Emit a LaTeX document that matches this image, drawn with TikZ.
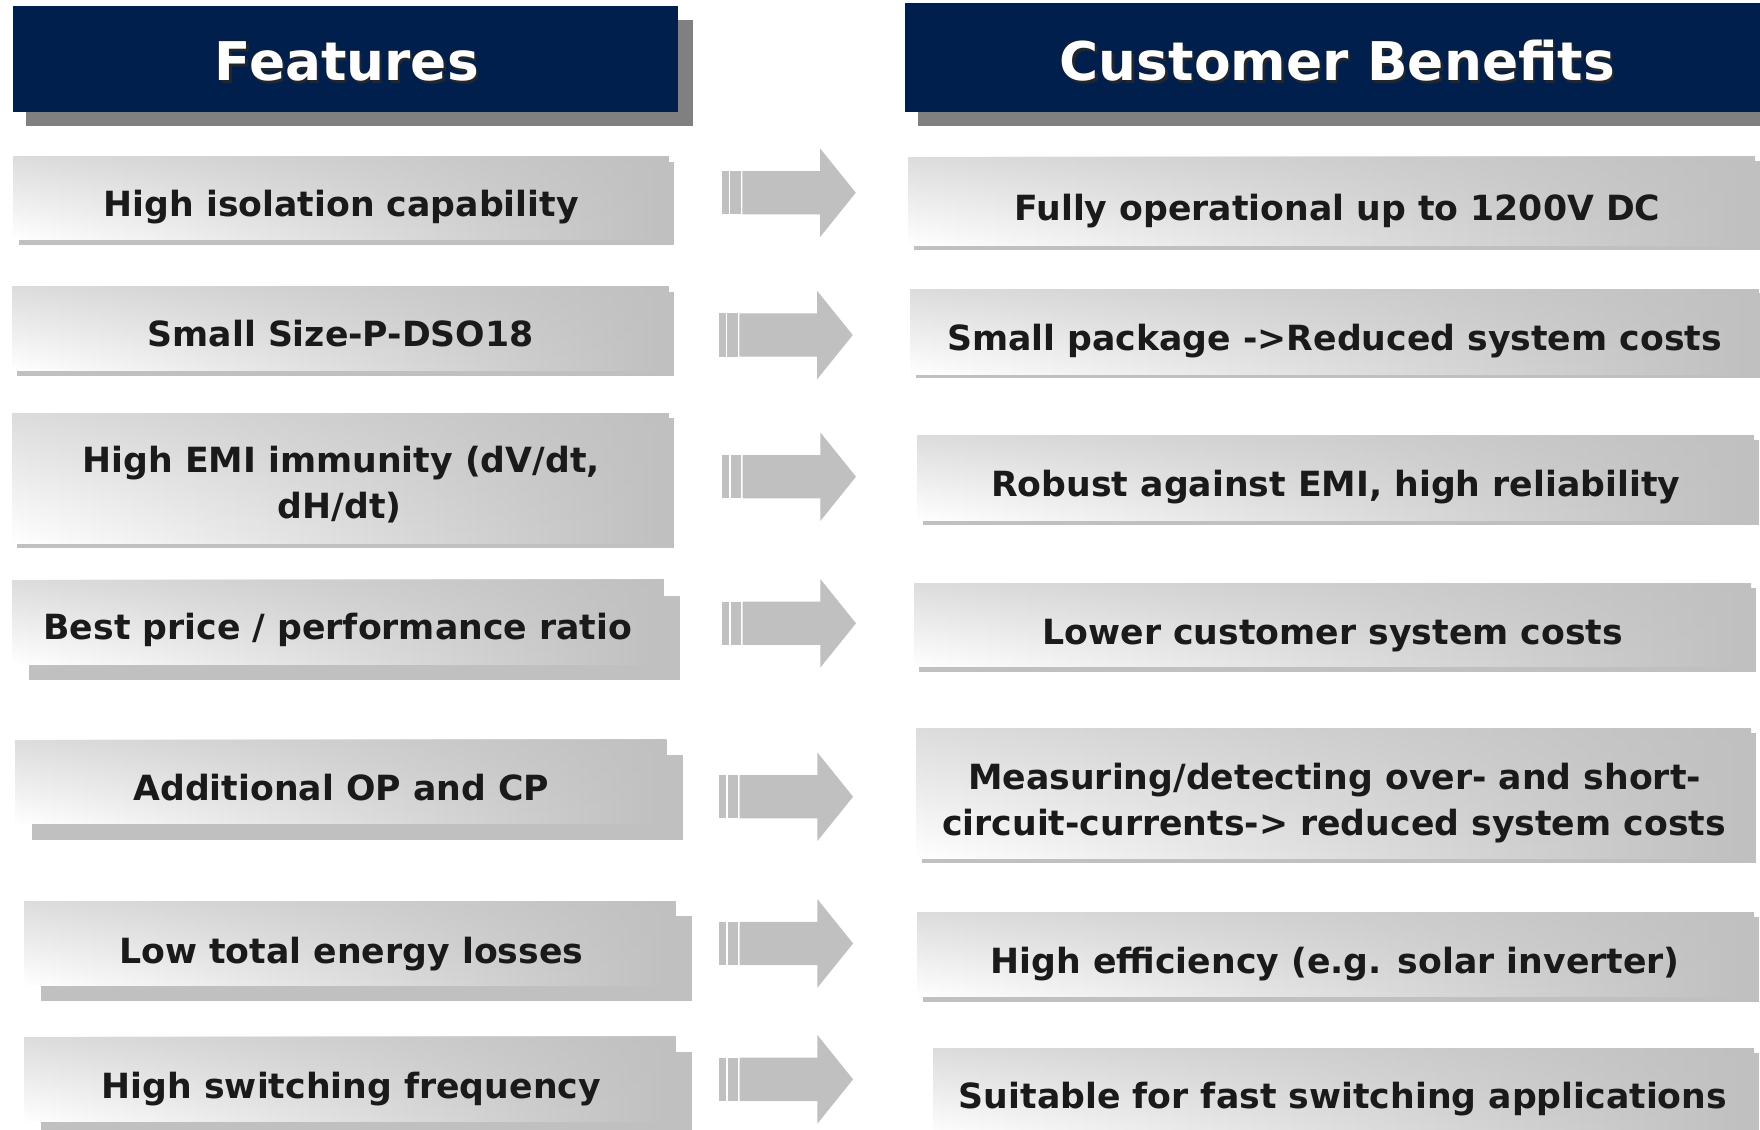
\documentclass[tikz,border=0pt]{standalone}
\usepackage{fontspec}
\setmainfont{DejaVu Sans}
\usetikzlibrary{fadings}
\definecolor{navy}{HTML}{001F4D}
\definecolor{hdshadow}{HTML}{808080}
\definecolor{boxshadow}{HTML}{C0C0C0}
\definecolor{boxgray}{HTML}{C0C0C0}
\definecolor{arrowgray}{HTML}{C0C0C0}
\definecolor{txt}{HTML}{1A1A1A}
\tikzset{
  hdbox/.style={fill=navy},
  hdshad/.style={fill=hdshadow},
  bxshad/.style={fill=boxshadow},
  bxfill/.style={left color=white, right color=boxgray},
  bxtop/.style={fill=boxgray, path fading=south, fill opacity=0.55},
  bodytext/.style={font=\fontsize{30.9}{41}\selectfont\bfseries, text=txt, anchor=base, inner sep=0pt},
  headtext/.style={font=\fontsize{47.5}{50}\selectfont\bfseries, text=white, anchor=base, inner sep=0pt},
  headshadowtext/.style={font=\fontsize{47.5}{50}\selectfont\bfseries, text=black!85, anchor=base, inner sep=0pt},
  arrowpart/.style={fill=arrowgray},
  blockarrow/.pic={
    \fill[arrowpart] (0,-19.3) rectangle (6.2,19.3);
    \fill[arrowpart] (7.4,-19.3) rectangle (16.7,19.3);
    \fill[arrowpart] (18.1,-19.3) -- (87.3,-19.3) -- (87.3,-39.5) -- (119.1,0)
      -- (87.3,39.5) -- (87.3,19.3) -- (18.1,19.3) -- cycle;
  }
}
\newcommand\mybox[6]{%
  \fill[bxshad] (#1+#5,#2+#6) rectangle (#3+#5,#4+#6);
  \shade[bxfill] (#1,#2) rectangle (#3,#4);
  \fill[bxtop] (#1,#2) rectangle (#3,#4);
}
\begin{document}
\begin{tikzpicture}[x=1pt,y=-1pt]
\clip (0,0) rectangle (1568,1006);
\fill[white] (0,0) rectangle (1568,1006);
% headers
\fill[hdshad] (23,17.5) rectangle (617,112);
\fill[hdbox] (12,5) rectangle (604,99.5);
\fill[hdshad] (818,17) rectangle (1575,112);
\fill[hdbox] (806,3) rectangle (1575,99.5);
\node[headshadowtext] (hf) at (311,74) {Features};
\node[headtext] (hfw) at (309,72) {Features};
\node[headshadowtext] (hc) at (1193.5,74) {Customer Benefits};
\node[headtext] (hcw) at (1191.5,72) {Customer Benefits};
% left boxes
\mybox{12}{139}{596}{213}{4.5}{5.5}
\mybox{11}{254.8}{596}{330}{4.5}{5}
\mybox{11}{368.3}{596}{484}{4.5}{4.3}
\mybox{11}{516.7}{591.4}{591.6}{14.4}{14.2}
\mybox{13.9}{659}{594}{734}{14.5}{14}
\mybox{21.9}{802.7}{602}{878}{14.6}{13.7}
\mybox{21.9}{923.6}{602}{999.4}{14.5}{14}
% right boxes
\mybox{809.3}{139.6}{1563.6}{218.3}{5}{4}
\mybox{811.4}{257.8}{1566.9}{333.2}{5}{3.5}
\mybox{817.6}{387.6}{1562.7}{463.3}{4.5}{4.5}
\mybox{814.3}{519.7}{1560}{594}{4.5}{4.4}
\mybox{816.7}{649}{1560}{764.7}{4.5}{4}
\mybox{817.6}{812.5}{1562.7}{888}{4.8}{4.4}
\mybox{831}{934}{1562.7}{1012}{4.8}{4.4}
% left texts
\node[bodytext] (l1) at (304,193) {High isolation capability};
\node[bodytext] (l2) at (303.5,309) {Small Size-P-DSO18};
\node[bodytext] (l3a) at (304,421) {High EMI immunity (dV/dt,};
\node[bodytext] (l3b) at (302.5,462) {dH/dt)};
\node[bodytext] (l4) at (301,570) {Best price / performance ratio};
\node[bodytext] (l5) at (304,713) {Additional OP and CP};
\node[bodytext] (l6) at (313,858) {Low total energy losses};
\node[bodytext] (l7) at (313,979) {High switching frequency};
% right texts
\node[bodytext] (r1) at (1191.5,196) {Fully operational up to 1200V DC};
\node[bodytext] (r2) at (1189,312) {Small package ->Reduced system costs};
\node[bodytext] (r3) at (1190,442) {Robust against EMI, high reliability};
\node[bodytext] (r4) at (1187.5,574) {Lower customer system costs};
\node[bodytext] (r5a) at (1189,703) {Measuring/detecting over- and short-};
\node[bodytext] (r5b) at (1188.5,744) {circuit-currents-> reduced system costs};
\node[bodytext] (r6) at (1189.5,867) {High efficiency (e.g. solar inverter)};
\node[bodytext] (r7) at (1196.5,988) {Suitable for fast switching applications};
% arrows
\pic (a1) at (643.3,171.7) {blockarrow};
\pic (a2) at (640.6,298.5) {blockarrow};
\pic (a3) at (643.5,424.7) {blockarrow};
\pic (a4) at (643.5,555.3) {blockarrow};
\pic (a5) at (640.9,709.8) {blockarrow};
\pic (a6) at (640.9,840.5) {blockarrow};
\pic (a7) at (640.9,961.6) {blockarrow};
\end{tikzpicture}
\end{document}
